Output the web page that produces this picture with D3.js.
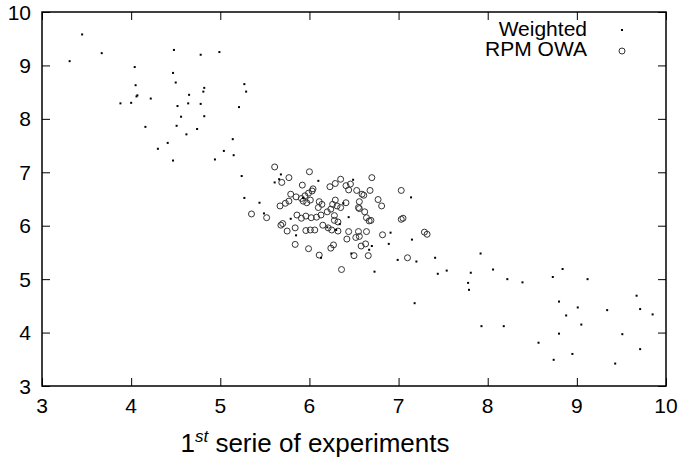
<!DOCTYPE html>
<html>
<head>
<meta charset="utf-8">
<script src="https://cdn.jsdelivr.net/npm/d3@7"></script>
<style>
  body { margin: 0; background: #fff; }
  svg { display: block; }
  .tick-label { font-family: 'Liberation Sans', Arial, sans-serif; font-size: 21px; fill: #000; }
</style>
</head>
<body>
<div id="chart"></div>
<script>
// Weighted series (small dots)
const weighted = [
  [3.45, 9.58], [3.67, 9.23], [3.31, 9.08], [4.48, 9.29], [4.78, 9.20], [4.99, 9.25],
  [4.04, 8.97], [4.47, 8.86], [4.50, 8.68], [4.05, 8.63], [4.07, 8.44], [4.06, 8.42],
  [4.22, 8.38], [3.88, 8.29], [4.00, 8.30], [4.65, 8.45], [4.82, 8.58], [4.81, 8.51],
  [5.27, 8.65], [5.29, 8.51], [4.52, 8.24], [4.64, 8.29], [4.78, 8.28], [5.21, 8.22],
  [4.56, 8.04], [4.82, 8.05], [4.16, 7.85], [4.51, 7.87], [4.74, 7.81], [4.62, 7.71],
  [5.14, 7.62], [4.41, 7.55], [4.30, 7.44], [5.04, 7.40], [5.15, 7.32], [4.47, 7.22],
  [4.94, 7.24], [5.24, 6.93], [5.27, 6.52],
  [5.44, 6.43], [5.49, 6.23], [5.68, 6.96], [5.61, 6.81], [5.66, 6.87], [5.79, 6.13],
  [5.85, 5.82], [6.10, 6.84], [6.13, 5.40], [6.49, 6.86], [6.44, 6.16], [6.34, 6.03],
  [6.38, 6.42], [6.47, 5.48], [6.70, 5.62], [6.67, 5.55], [6.73, 5.14], [7.14, 6.53],
  [6.30, 5.92], [6.20, 5.97], [5.93, 6.52],
  [6.91, 5.87], [6.89, 5.66], [7.15, 5.74], [6.99, 5.36], [7.20, 5.33], [7.18, 4.55],
  [7.41, 5.40], [7.44, 5.10], [7.54, 5.16], [7.92, 5.48], [7.81, 5.12], [7.78, 4.93],
  [7.79, 4.80], [8.06, 5.18], [8.22, 5.00], [8.39, 4.94], [7.93, 4.12], [8.18, 4.12],
  [8.73, 5.04], [8.84, 5.19], [9.12, 5.00], [8.80, 4.58], [9.01, 4.47], [8.88, 4.32],
  [9.05, 4.15], [8.80, 3.98], [8.57, 3.81], [8.74, 3.49], [8.95, 3.60], [9.34, 4.42],
  [9.51, 3.97], [9.43, 3.42], [9.67, 4.69], [9.71, 4.44], [9.85, 4.34], [9.71, 3.69]
]

// RPM OWA series (open circles)
const rpmOwa = [
  [5.61, 7.10], [6.00, 7.01], [5.77, 6.90], [5.69, 6.81], [5.92, 6.76], [6.04, 6.69],
  [6.23, 6.73], [6.29, 6.79], [6.35, 6.87], [6.41, 6.75], [6.46, 6.78], [6.44, 6.67],
  [6.53, 6.66], [6.59, 6.59], [6.61, 6.57], [6.68, 6.66], [6.70, 6.90], [7.03, 6.66],
  [5.79, 6.59], [5.85, 6.54], [5.91, 6.51], [5.95, 6.56], [5.99, 6.61], [6.03, 6.65],
  [5.93, 6.46], [5.97, 6.43], [6.01, 6.48], [6.11, 6.45], [6.14, 6.40], [5.67, 6.37],
  [5.73, 6.42], [5.77, 6.46], [6.10, 6.34], [6.24, 6.31], [6.29, 6.48], [6.26, 6.40],
  [6.31, 6.37], [6.41, 6.43], [6.35, 6.34], [6.56, 6.45], [6.77, 6.49], [6.81, 6.37],
  [6.55, 6.34], [6.56, 6.32], [6.62, 6.26], [6.64, 6.15], [6.67, 6.09], [6.69, 6.10],
  [7.03, 6.12], [7.05, 6.14], [5.35, 6.22], [5.52, 6.15], [5.86, 6.20], [5.91, 6.14],
  [5.96, 6.18], [6.02, 6.15], [6.08, 6.16], [6.13, 6.20], [6.20, 6.26], [6.28, 6.19],
  [6.28, 6.10], [6.32, 6.07], [5.68, 6.01], [5.70, 6.04], [5.75, 5.90], [5.84, 5.96],
  [5.96, 5.91], [6.01, 5.92], [6.06, 5.92], [6.15, 6.01], [6.21, 5.96], [6.32, 5.90],
  [6.44, 5.89], [6.55, 5.89], [6.64, 5.89], [6.42, 5.75], [6.52, 5.78], [6.56, 5.80],
  [6.82, 5.83], [7.29, 5.88], [7.32, 5.84], [5.84, 5.65], [5.99, 5.57], [6.24, 5.58],
  [6.27, 5.64], [6.58, 5.62], [6.63, 5.66], [6.11, 5.45], [6.50, 5.44], [6.66, 5.44],
  [7.10, 5.40], [6.36, 5.18], [6.25, 5.92]
]

const xTicks = [3, 4, 5, 6, 7, 8, 9, 10]
const yTicks = [3, 4, 5, 6, 7, 8, 9, 10]
const seriesNames = ['Weighted', 'RPM OWA']

const width = 684
const height = 463
const margin = { top: 12, right: 18, bottom: 77, left: 42 }
const innerWidth = width - margin.left - margin.right
const innerHeight = height - margin.top - margin.bottom

const svg = d3.select('#chart')
  .append('svg')
  .attr('width', width)
  .attr('height', height)

const g = svg.append('g')
  .attr('transform', `translate(${margin.left}, ${margin.top})`)

const xScale = d3.scaleLinear().domain([3, 10]).range([0, innerWidth])
const yScale = d3.scaleLinear().domain([3, 10]).range([innerHeight, 0])

// ticks pointing inward on all four sides (mirrored)
const tickLen = 8
g.append('g')
  .attr('transform', `translate(0, ${innerHeight})`)
  .call(d3.axisBottom(xScale).tickValues(xTicks).tickSize(-tickLen).tickFormat(''))
g.append('g')
  .call(d3.axisTop(xScale).tickValues(xTicks).tickSize(-tickLen).tickFormat(''))
g.append('g')
  .call(d3.axisLeft(yScale).tickValues(yTicks).tickSize(-tickLen).tickFormat(''))
g.append('g')
  .attr('transform', `translate(${innerWidth}, 0)`)
  .call(d3.axisRight(yScale).tickValues(yTicks).tickSize(-tickLen).tickFormat(''))
g.selectAll('.domain').remove()
g.selectAll('.tick text').remove()
g.selectAll('.tick line').attr('stroke', '#000').attr('stroke-width', 1)

// tick labels
g.selectAll('.xlab')
  .data(xTicks)
  .enter().append('text')
  .attr('class', 'tick-label')
  .attr('x', d => xScale(d))
  .attr('y', innerHeight + 27)
  .attr('text-anchor', 'middle')
  .text(d => d)

g.selectAll('.ylab')
  .data(yTicks)
  .enter().append('text')
  .attr('class', 'tick-label')
  .attr('x', -11)
  .attr('y', d => yScale(d) + 7.5)
  .attr('text-anchor', 'end')
  .text(d => d)

// border
g.append('rect')
  .attr('width', innerWidth)
  .attr('height', innerHeight)
  .attr('fill', 'none')
  .attr('stroke', '#000')
  .attr('stroke-width', 1.5)

// points
g.selectAll('.owa')
  .data(rpmOwa)
  .enter().append('circle')
  .attr('cx', d => xScale(d[0]))
  .attr('cy', d => yScale(d[1]))
  .attr('r', 3)
  .attr('fill', 'none')
  .attr('stroke', '#333')
  .attr('stroke-width', 1)

g.selectAll('.wdot')
  .data(weighted)
  .enter().append('rect')
  .attr('x', d => xScale(d[0]) - 1)
  .attr('y', d => yScale(d[1]) - 1)
  .attr('width', 2)
  .attr('height', 2)
  .attr('fill', '#000')

// legend
const legend = g.append('g')
  .attr('transform', `translate(${innerWidth - 79}, 0)`)

legend.selectAll('text')
  .data(seriesNames)
  .enter().append('text')
  .attr('class', 'tick-label')
  .attr('x', 0)
  .attr('y', (d, i) => 23.5 + i * 20)
  .attr('text-anchor', 'end')
  .text(d => d)

legend.append('rect')
  .attr('x', 35 - 1)
  .attr('y', 18 - 1)
  .attr('width', 2)
  .attr('height', 2)
  .attr('fill', '#000')

legend.append('circle')
  .attr('cx', 35)
  .attr('cy', 39)
  .attr('r', 3)
  .attr('fill', 'none')
  .attr('stroke', '#333')

// x axis title with superscript
const title = svg.append('text')
  .attr('class', 'tick-label')
  .attr('x', 315)
  .attr('y', 452)
  .attr('text-anchor', 'middle')
  .style('font-size', '26px')
title.append('tspan').text('1')
title.append('tspan')
  .attr('dy', -10)
  .style('font-size', '17px')
  .style('font-style', 'italic')
  .text('st')
title.append('tspan')
  .attr('dy', 10)
  .text(' serie of experiments')
</script>
</body>
</html>
